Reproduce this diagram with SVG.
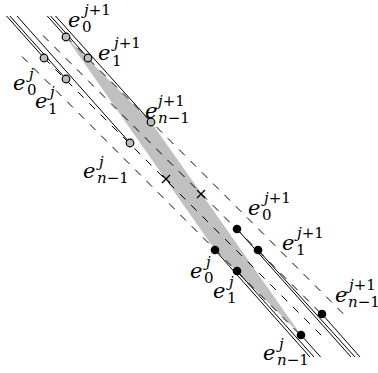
<svg xmlns="http://www.w3.org/2000/svg" width="378" height="373" viewBox="0 0 378 373">
<style>
.s{stroke:#000;stroke-width:1;fill:none}
.d{stroke:#000;stroke-width:1;fill:none;stroke-dasharray:8 8}
.x{stroke:#000;stroke-width:1.3;fill:none}
.g{fill:#bdbdbd;stroke:#000;stroke-width:1.2}
.b{fill:#000}
.e{font-family:"DejaVu Serif",serif;font-style:italic;font-size:21px}
.sc{font-family:"DejaVu Serif",serif;font-size:15px}
.i{font-style:italic}
</style>
<polygon points="66,37 151,122 301,335 215,250" fill="#c0c0c0"/>
<g id="connectors">
<line class="s" x1="6.6" y1="16" x2="44" y2="58"/>
<line class="s" x1="9.9" y1="16" x2="66" y2="79"/>
<line class="s" x1="17" y1="16" x2="130" y2="143"/>
<line class="s" x1="47.3" y1="16" x2="66" y2="37"/>
<line class="s" x1="50.6" y1="16" x2="88" y2="58"/>
<line class="s" x1="55.5" y1="16" x2="151" y2="122"/>
<line class="d" x1="22" y1="56.5" x2="301" y2="335.5"/>
<line class="d" x1="44" y1="58" x2="323" y2="337"/>
<line class="d" x1="43" y1="35.5" x2="322" y2="314.5"/>
<line class="d" x1="66" y1="36.5" x2="345" y2="315.5"/>
<line class="s" x1="215" y1="250" x2="310" y2="357"/>
<line class="s" x1="237" y1="271" x2="314" y2="357"/>
<line class="s" x1="301" y1="335" x2="320.6" y2="357"/>
<line class="s" x1="237" y1="229" x2="351" y2="357"/>
<line class="s" x1="258" y1="250" x2="355" y2="357"/>
<line class="s" x1="322" y1="314" x2="360" y2="357"/>
</g>
<g id="crosses" class="x">
<path d="M162,175 L170,183 M170,175 L162,183"/>
<path d="M197,190 L205,198 M205,190 L197,198"/>
</g>
<g id="gray-j0"><circle class="g" cx="44" cy="58" r="3.8"/></g>
<g id="gray-j1"><circle class="g" cx="66" cy="79" r="3.8"/></g>
<g id="gray-jn"><circle class="g" cx="130" cy="143" r="3.8"/></g>
<g id="gray-k0"><circle class="g" cx="66" cy="37" r="3.8"/></g>
<g id="gray-k1"><circle class="g" cx="88" cy="58" r="3.8"/></g>
<g id="gray-kn"><circle class="g" cx="151" cy="122" r="3.8"/></g>
<g id="black-j0"><circle class="b" cx="215" cy="250" r="4.3"/></g>
<g id="black-j1"><circle class="b" cx="237" cy="271" r="4.3"/></g>
<g id="black-jn"><circle class="b" cx="301" cy="335" r="4.3"/></g>
<g id="black-k0"><circle class="b" cx="237" cy="229" r="4.3"/></g>
<g id="black-k1"><circle class="b" cx="258" cy="250" r="4.3"/></g>
<g id="black-kn"><circle class="b" cx="322" cy="314" r="4.3"/></g>
<g id="labels">
<text class="e" x="68" y="27">e</text><text class="sc" x="82" y="32">0</text><text class="sc" x="84" y="15"><tspan class="i">j</tspan>+1</text>
<text class="e" x="98" y="60">e</text><text class="sc" x="112" y="66">1</text><text class="sc" x="114" y="48"><tspan class="i">j</tspan>+1</text>
<text class="e" x="145" y="118">e</text><text class="sc" x="158" y="123"><tspan class="i">n</tspan>−1</text><text class="sc" x="158" y="106"><tspan class="i">j</tspan>+1</text>
<text class="e" x="13" y="90">e</text><text class="sc" x="27" y="95">0</text><text class="sc" x="29" y="79"><tspan class="i">j</tspan></text>
<text class="e" x="35" y="108">e</text><text class="sc" x="48" y="114">1</text><text class="sc" x="50" y="97"><tspan class="i">j</tspan></text>
<text class="e" x="83" y="178">e</text><text class="sc" x="97" y="183"><tspan class="i">n</tspan>−1</text><text class="sc" x="99" y="167"><tspan class="i">j</tspan></text>
<text class="e" x="248" y="215">e</text><text class="sc" x="262" y="220">0</text><text class="sc" x="264" y="203"><tspan class="i">j</tspan>+1</text>
<text class="e" x="282" y="250">e</text><text class="sc" x="296" y="255">1</text><text class="sc" x="297" y="238"><tspan class="i">j</tspan>+1</text>
<text class="e" x="335" y="302">e</text><text class="sc" x="348" y="307"><tspan class="i">n</tspan>−1</text><text class="sc" x="349" y="290"><tspan class="i">j</tspan>+1</text>
<text class="e" x="190" y="278">e</text><text class="sc" x="204" y="283">0</text><text class="sc" x="206" y="267"><tspan class="i">j</tspan></text>
<text class="e" x="213" y="298">e</text><text class="sc" x="227" y="303">1</text><text class="sc" x="229" y="287"><tspan class="i">j</tspan></text>
<text class="e" x="263" y="360">e</text><text class="sc" x="277" y="365"><tspan class="i">n</tspan>−1</text><text class="sc" x="279" y="349"><tspan class="i">j</tspan></text>
</g>
</svg>
